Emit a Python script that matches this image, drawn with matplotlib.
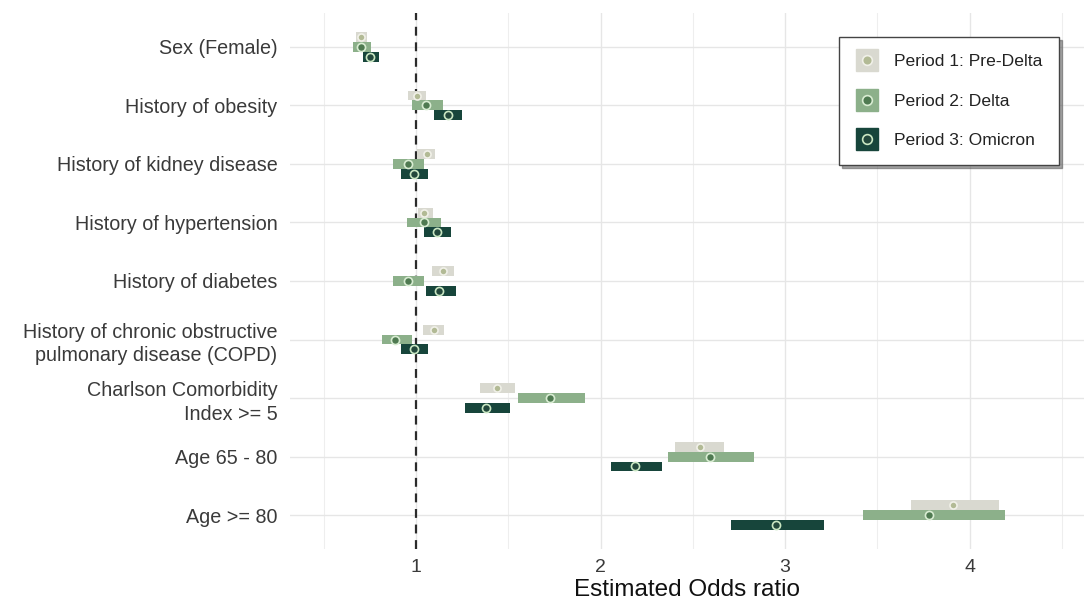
import numpy as np
import matplotlib
matplotlib.use("Agg")
import matplotlib.pyplot as plt
from matplotlib.lines import Line2D
from matplotlib.legend_handler import HandlerTuple
from matplotlib.ticker import MultipleLocator

plt.rcParams["font.family"] = ["Liberation Sans", "DejaVu Sans"]

# ─────────────────────────────────────────────────────────────────────────────
# DATA (odds ratio estimate + 95% CI)
# ─────────────────────────────────────────────────────────────────────────────

variables = [
    "Sex (Female)",
    "History of obesity",
    "History of kidney disease",
    "History of hypertension",
    "History of diabetes",
    "History of chronic obstructive\npulmonary disease (COPD)",
    "Charlson Comorbidity\nIndex >= 5",
    "Age 65 - 80",
    "Age >= 80",
]

periods = ["Period 1: Pre-Delta", "Period 2: Delta", "Period 3: Omicron"]

p1_est = [0.70, 1.005, 1.06, 1.043, 1.147, 1.098, 1.44, 2.536, 3.908]
p1_lo  = [0.674, 0.957, 1.005, 1.011, 1.087, 1.038, 1.347, 2.405, 3.68]
p1_hi  = [0.734, 1.054, 1.103, 1.092, 1.206, 1.152, 1.537, 2.666, 4.158]

p2_est = [0.70, 1.054, 0.957, 1.043, 0.957, 0.886, 1.727, 2.59, 3.778]
p2_lo  = [0.658, 0.978, 0.875, 0.951, 0.875, 0.816, 1.553, 2.367, 3.42]
p2_hi  = [0.756, 1.147, 1.043, 1.136, 1.043, 0.978, 1.917, 2.829, 4.19]

p3_est = [0.75, 1.174, 0.989, 1.114, 1.125, 0.989, 1.38, 2.188, 2.948]
p3_lo  = [0.712, 1.098, 0.919, 1.043, 1.054, 0.919, 1.266, 2.058, 2.709]
p3_hi  = [0.80, 1.25, 1.065, 1.19, 1.217, 1.065, 1.51, 2.335, 3.208]

# styles
bar_colors   = ["#d9d9d0", "#8cb08a", "#17453b"]
point_fill   = ["#b2ba95", "#4f7a51", "#23483c"]
point_edge   = ["#f0f0e8", "#d8ecd2", "#c9e6c2"]
point_size   = [26, 34, 34]
offsets      = [-0.17, 0.0, 0.17]
bar_height   = 0.17

# ─────────────────────────────────────────────────────────────────────────────
# PLOT
# ─────────────────────────────────────────────────────────────────────────────

fig = plt.figure(figsize=(10.84, 6.02), dpi=100)
ax = fig.add_axes([290 / 1084, 1 - 549 / 602, (1084 - 290) / 1084, (549 - 13) / 602])

y = np.arange(len(variables))
series = [(p1_est, p1_lo, p1_hi), (p2_est, p2_lo, p2_hi), (p3_est, p3_lo, p3_hi)]

for i, (est, lo, hi) in enumerate(series):
    lo = np.array(lo); hi = np.array(hi)
    ax.barh(y + offsets[i], hi - lo, left=lo, height=bar_height,
            color=bar_colors[i], zorder=3 + i)
    ax.scatter(est, y + offsets[i], s=point_size[i], c=point_fill[i],
               edgecolors=point_edge[i], linewidths=1.2, zorder=6 + i)

ax.axvline(1, color="#2b2b2b", lw=1.6, ls=(0, (4, 3)), zorder=2)

ax.set_xlim(0.316, 4.62)
ax.set_ylim(len(variables) - 0.42, -0.58)
ax.set_yticks(y)
ax.set_yticklabels(variables, fontsize=14.2, color="#3a3a3a", ha="right",
                   multialignment="right", linespacing=1.3)
ax.xaxis.set_major_locator(MultipleLocator(1))
ax.xaxis.set_minor_locator(MultipleLocator(0.5))
ax.tick_params(axis="both", which="both", length=0, labelsize=14, labelcolor="#3a3a3a")
ax.tick_params(axis="y", labelsize=14.2, pad=9)
ax.tick_params(axis="x", pad=7)

ax.grid(True, which="major", color="#e6e6e6", lw=1.0, zorder=0)
ax.grid(True, which="minor", axis="x", color="#eeeeee", lw=0.8, zorder=0)
ax.set_axisbelow(True)
for s in ax.spines.values():
    s.set_visible(False)

ax.set_xlabel("Estimated Odds ratio", fontsize=17.5, color="#111111", labelpad=2)

# legend: square of bar colour with the point on top
handles = []
for i in range(3):
    sq = Line2D([], [], marker="s", markersize=16, color=bar_colors[i], lw=0)
    pt = Line2D([], [], marker="o", markersize=7, markerfacecolor=point_fill[i],
                markeredgecolor=point_edge[i], markeredgewidth=1.2, lw=0)
    handles.append((sq, pt))

leg = ax.legend(handles, periods, handler_map={tuple: HandlerTuple(ndivide=1)},
                loc="upper right", bbox_to_anchor=(0.969, 0.955), borderaxespad=0,
                fontsize=12.6, frameon=True, shadow=True, fancybox=False,
                borderpad=0.95, labelspacing=1.4, handlelength=1.3,
                handletextpad=0.9)
leg.get_frame().set_edgecolor("#444444")
leg.get_frame().set_linewidth(1.0)
for t in leg.get_texts():
    t.set_color("#222222")

plt.savefig("out.png", dpi=100)
plt.close()
